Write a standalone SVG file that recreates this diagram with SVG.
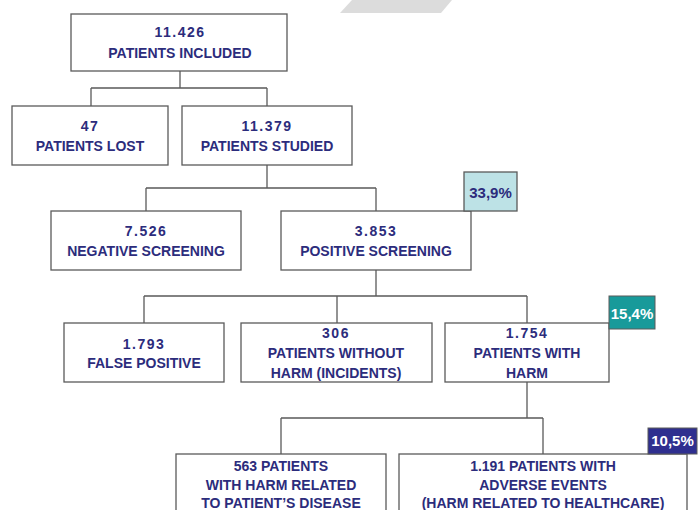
<svg xmlns="http://www.w3.org/2000/svg" width="699" height="510" viewBox="0 0 699 510">
<style>
.box{fill:#fff;stroke:#5a5a5a;stroke-width:1.3}
.ln{fill:none;stroke:#5a5a5a;stroke-width:1.3}
text{font-family:"Liberation Sans",Arial,sans-serif;font-weight:bold;font-size:14px;fill:#2c2c7c;text-anchor:middle}
.num{letter-spacing:1.5px}
.bt{font-size:15px}
.w{fill:#fff}
</style>
<rect width="699" height="510" fill="#fff"/>
<polygon points="352,0 452,0 441,13 340,13" fill="#dcdcdc"/>
<g id="connectors">
<path class="ln" d="M180,71 V88 M91,88 H267 M91,88 V106 M267,88 V106"/>
<path class="ln" d="M267,165 V188 M146,188 H376 M146,188 V211 M376,188 V211"/>
<path class="ln" d="M376,270 V296 M144,296 H527 M144,296 V323 M337,296 V323 M527,296 V323"/>
<path class="ln" d="M527,382 V418 M281,418 H543 M281,418 V454 M543,418 V454"/>
</g>
<g id="n-included">
<rect class="box" x="71" y="14" width="216" height="57"/>
<text class="num" x="180" y="37">11.426</text>
<text x="180" y="58">PATIENTS INCLUDED</text>
</g>
<g id="n-lost">
<rect class="box" x="12" y="106" width="156" height="59"/>
<text class="num" x="90" y="131">47</text>
<text x="90" y="151">PATIENTS LOST</text>
</g>
<g id="n-studied">
<rect class="box" x="182" y="106" width="170" height="59"/>
<text class="num" x="267" y="131">11.379</text>
<text x="267" y="151">PATIENTS STUDIED</text>
</g>
<g id="n-negative">
<rect class="box" x="51" y="211" width="190" height="59"/>
<text class="num" x="146" y="236">7.526</text>
<text x="146" y="256">NEGATIVE SCREENING</text>
</g>
<g id="n-positive">
<rect class="box" x="281" y="211" width="190" height="59"/>
<text class="num" x="376" y="236">3.853</text>
<text x="376" y="256">POSITIVE SCREENING</text>
</g>
<g id="b-339">
<rect x="464" y="172" width="53" height="39" fill="#bde2e6" stroke="#5a5a5a" stroke-width="1.3"/>
<text class="bt" x="490.5" y="198">33,9%</text>
</g>
<g id="n-false">
<rect class="box" x="64" y="323" width="160" height="59"/>
<text class="num" x="144" y="349">1.793</text>
<text x="144" y="368">FALSE POSITIVE</text>
</g>
<g id="n-without">
<rect class="box" x="241" y="323" width="191" height="59"/>
<text class="num" x="336" y="338">306</text>
<text x="336" y="358">PATIENTS WITHOUT</text>
<text x="336" y="378">HARM (INCIDENTS)</text>
</g>
<g id="n-with">
<rect class="box" x="445" y="323" width="164" height="59"/>
<text class="num" x="527" y="338">1.754</text>
<text x="527" y="358">PATIENTS WITH</text>
<text x="527" y="378">HARM</text>
</g>
<g id="b-154">
<rect x="609" y="296" width="46" height="33" fill="#189a9a" stroke="#5a5a5a" stroke-width="1"/>
<text class="bt w" x="632" y="319">15,4%</text>
</g>
<g id="n-disease">
<rect class="box" x="176" y="454" width="210" height="70"/>
<text x="281" y="471">563 PATIENTS</text>
<text x="281" y="490">WITH HARM RELATED</text>
<text x="281" y="508">TO PATIENT’S DISEASE</text>
</g>
<g id="n-adverse">
<rect class="box" x="399" y="454" width="288" height="70"/>
<text x="543" y="471">1.191 PATIENTS WITH</text>
<text x="543" y="490">ADVERSE EVENTS</text>
<text x="543" y="508">(HARM RELATED TO HEALTHCARE)</text>
</g>
<g id="b-105">
<rect x="648" y="428" width="49" height="26" fill="#2f2f8f" stroke="#5a5a5a" stroke-width="1"/>
<text class="bt w" x="672.5" y="446">10,5%</text>
</g>
</svg>
